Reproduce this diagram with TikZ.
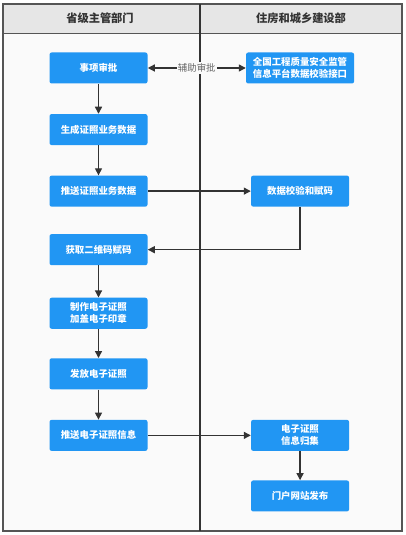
\documentclass[tikz,border=0pt]{standalone}
\usepackage{fontspec}
\setmainfont{Noto Sans CJK SC}
\usetikzlibrary{positioning, arrows.meta}
\definecolor{boxblue}{HTML}{2196F3}
\definecolor{ink}{HTML}{333333}
\definecolor{headgray}{HTML}{E6E6E6}
\definecolor{pagebg}{HTML}{FAFAFA}
\definecolor{frameline}{HTML}{555555}
\definecolor{labelgray}{HTML}{666666}

\begin{document}
\begin{tikzpicture}[
  procbox/.style={rectangle, fill=boxblue, text=white, rounded corners=1.5pt,
                  minimum width=2.45cm, minimum height=0.775cm, inner sep=1pt,
                  align=center, font=\fontsize{6.7}{8.5}\selectfont\bfseries},
  flow/.style={-{Triangle[length=5pt, width=5pt]}, ink, line width=0.9pt}]
\useasboundingbox (0,0) rectangle (10.125,-13.375);
% lanes
\fill[pagebg] (0.075,-0.1) rectangle (10.05,-13.275);
\fill[headgray] (0.075,-0.1) rectangle (10.05,-0.825);
\draw[frameline, line width=0.5pt] (0.075,-0.825) -- (10.05,-0.825);
\draw[frameline, line width=1.1pt] (0.075,-0.1) rectangle (10.05,-13.275);
\draw[ink, line width=1.1pt] (5.0,-0.1) -- (5.0,-13.275);
\node[font=\fontsize{8}{10}\selectfont\bfseries, text=ink] (laneA) at (2.5,-0.4625) {省级主管部门};
\node[font=\fontsize{8}{10}\selectfont\bfseries, text=ink] (laneB) at (7.525,-0.4625) {住房和城乡建设部};

% left lane
\node[procbox] (approve) at (2.4625,-1.7) {事项审批};
\node[procbox, below=0.75cm of approve] (gendata) {生成证照业务数据};
\node[procbox, below=0.75cm of gendata] (pushdata) {推送证照业务数据};
\node[procbox, below=0.675cm of pushdata] (getcode) {获取二维码赋码};
\node[procbox, below=0.8cm of getcode] (makecert) {制作电子证照\\加盖电子印章};
\node[procbox, below=0.725cm of makecert] (issue) {发放电子证照};
\node[procbox, below=0.75cm of issue] (pushinfo) {推送电子证照信息};

% right lane
\node[procbox, minimum width=2.7cm, right=2.45cm of approve] (platform)
     {全国工程质量安全监管\\信息平台数据校验接口};
\node[procbox, right=2.575cm of pushdata] (datacheck) {数据校验和赋码};
\node[procbox, right=2.575cm of pushinfo] (collect) {电子证照\\信息归集};
\node[procbox, below=0.725cm of collect] (portal) {门户网站发布};

\draw[{Triangle[length=5pt, width=5pt]}-{Triangle[length=5pt, width=5pt]}, ink, line width=0.9pt]
  (approve) -- node[fill=pagebg, text=labelgray, inner sep=1pt,
                    font=\fontsize{6.7}{8}\selectfont] (aux) {辅助审批} (platform);
\draw[flow] (approve) -- (gendata);
\draw[flow] (gendata) -- (pushdata);
\draw[flow] (pushdata) -- (datacheck);
\draw[flow] (datacheck.south) |- (getcode.east);
\draw[flow] (getcode) -- (makecert);
\draw[flow] (makecert) -- (issue);
\draw[flow] (issue) -- (pushinfo);
\draw[flow] (pushinfo) -- (collect);
\draw[flow] (collect) -- (portal);
\end{tikzpicture}
\end{document}
